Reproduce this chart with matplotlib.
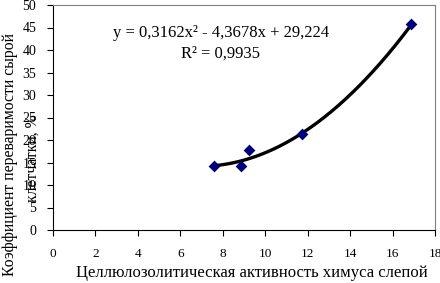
import numpy as np
import matplotlib
matplotlib.use("Agg")
import matplotlib.pyplot as plt

# Data
x_vals = [7.6, 8.85, 9.25, 11.75, 16.85]
y_vals = [14.2, 14.3, 17.7, 21.4, 45.8]
fit_coef = [0.3162, -4.3678, 29.224]
x_ticks = [0, 2, 4, 6, 8, 10, 12, 14, 16, 18]
y_ticks = [0, 5, 10, 15, 20, 25, 30, 35, 40, 45, 50]
eq_text = "y = 0,3162x² - 4,3678x + 29,224"
r2_text = "R² = 0,9935"
x_label = "Целлюлозолитическая активность химуса слепой"
y_label_1 = "Коэффициент переваримости сырой"
y_label_2 = "клетчатки, %"

plt.rcParams['font.family'] = ['Liberation Serif', 'DejaVu Serif']

fig = plt.figure(figsize=(4.4, 2.83), dpi=100)
W, H = 440, 283
ax = fig.add_axes([53 / W, 53 / H, 382 / W, 225 / H])

xf = np.linspace(min(x_vals), max(x_vals), 200)
ax.plot(xf, np.polyval(fit_coef, xf), color='black', lw=2.4, zorder=2)
ax.scatter(x_vals, y_vals, marker='D', s=36, color='#00007A', zorder=3, linewidths=0)

ax.set_xlim(0, 18)
ax.set_ylim(0, 50)
ax.set_xticks(x_ticks)
ax.set_yticks(y_ticks)
ax.tick_params(axis='x', direction='out', length=4, width=0.8, pad=9, labelsize=9.5, colors='black')
ax.tick_params(axis='y', direction='out', length=4, width=0.8, pad=8, labelsize=10, colors='black')
for s in ['top', 'right']:
    ax.spines[s].set_color('#808080')
    ax.spines[s].set_linewidth(0.8)
for s in ['left', 'bottom']:
    ax.spines[s].set_color('black')
    ax.spines[s].set_linewidth(0.8)

ax.text(7.9, 43.7, eq_text, fontsize=12, ha='center', va='center')
ax.text(7.9, 39.3, r2_text, fontsize=12, ha='center', va='center')

fig.text(252 / W, 1 - 273 / H, x_label, fontsize=12, ha='center', va='center')
fig.text(10 / W, 1 - 154 / H, y_label_1, fontsize=11.3, ha='center', va='center', rotation=90)
fig.text(33 / W, 1 - 158 / H, y_label_2, fontsize=11.3, ha='center', va='center', rotation=90)

fig.savefig("out.png", dpi=100)
